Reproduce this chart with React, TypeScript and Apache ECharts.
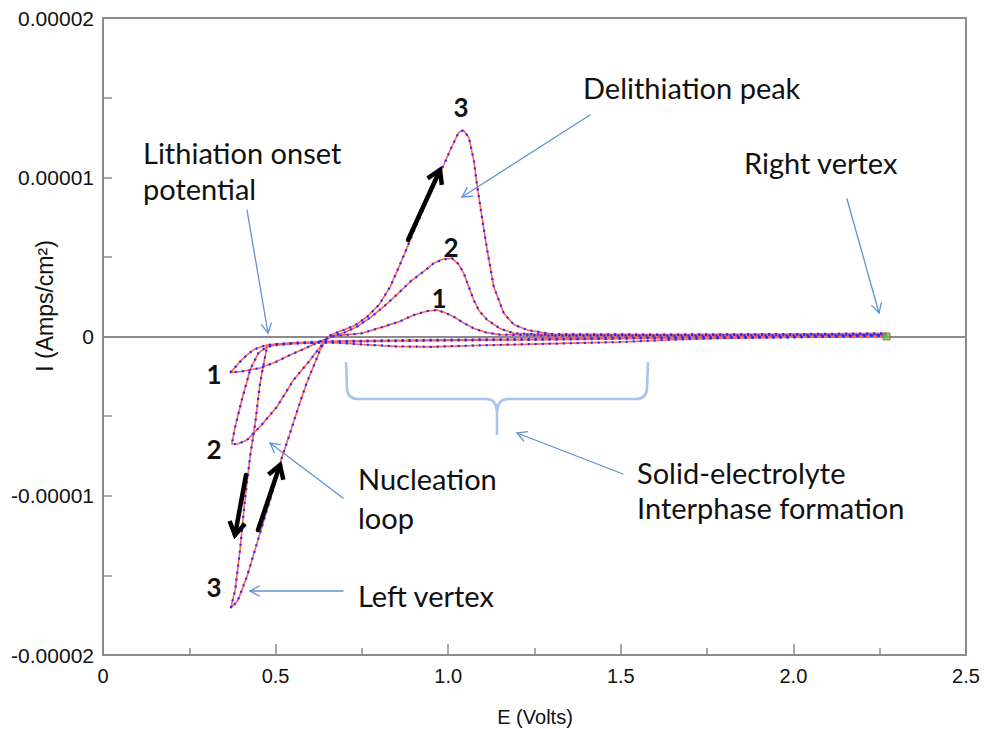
import React, { useEffect, useRef } from "react";
import * as echarts from "echarts";

// ---- Data (E in volts, I in µA/cm²) ----
const cycle1E = [2.27, 2.0, 1.8, 1.65, 1.5, 1.3, 1.1, 0.95, 0.85, 0.75, 0.7, 0.65, 0.6, 0.55, 0.5, 0.475, 0.45, 0.435, 0.415, 0.397, 0.38, 0.368,
  0.4, 0.455, 0.5, 0.542, 0.6, 0.638, 0.66, 0.7, 0.75, 0.813, 0.86, 0.9, 0.94, 0.967, 0.99, 1.016, 1.045, 1.074, 1.11, 1.15, 1.3, 1.6, 2.0, 2.27];
const cycle1I = [0.1, -0.05, -0.1, -0.2, -0.35, -0.45, -0.55, -0.65, -0.62, -0.5, -0.42, -0.38, -0.4, -0.42, -0.48, -0.53, -0.7, -0.85, -1.2, -1.58, -2.0, -2.27,
  -2.2, -1.98, -1.6, -1.16, -0.6, -0.22, 0.0, 0.1, 0.2, 0.62, 0.95, 1.35, 1.6, 1.66, 1.5, 1.24, 0.85, 0.51, 0.25, 0.12, 0.05, 0.05, 0.08, 0.1];

const cycle2E = [2.27, 2.0, 1.6, 1.3, 1.0, 0.8, 0.65, 0.55, 0.5, 0.475, 0.45, 0.426, 0.402, 0.383, 0.373,
  0.39, 0.417, 0.455, 0.504, 0.552, 0.6, 0.638, 0.66, 0.7, 0.736, 0.775, 0.813, 0.85, 0.89, 0.93, 0.958, 0.985, 1.011, 1.03, 1.045, 1.06, 1.074, 1.09, 1.113, 1.15, 1.19, 1.3, 1.6, 2.0, 2.27];
const cycle2I = [0.05, -0.05, -0.1, -0.2, -0.25, -0.3, -0.35, -0.45, -0.55, -0.64, -1.04, -2.1, -3.99, -5.66, -6.75,
  -6.75, -6.5, -5.66, -4.41, -2.73, -1.48, -0.41, 0.0, 0.25, 0.62, 1.2, 1.87, 2.6, 3.44, 4.1, 4.6, 4.85, 4.91, 4.55, 3.97, 3.1, 2.29, 1.6, 1.04, 0.5, 0.2, 0.1, 0.1, 0.12, 0.15];

const cycle3E = [2.27, 2.0, 1.6, 1.3, 1.0, 0.8, 0.65, 0.55, 0.5, 0.475, 0.455, 0.441, 0.426, 0.41, 0.397, 0.383, 0.37,
  0.39, 0.417, 0.455, 0.485, 0.513, 0.542, 0.565, 0.59, 0.629, 0.645, 0.66, 0.697, 0.73, 0.765, 0.8, 0.832, 0.86, 0.89, 0.92, 0.95, 0.987, 1.01, 1.03, 1.043, 1.06, 1.074, 1.083, 1.093, 1.113, 1.132, 1.161, 1.19, 1.229, 1.3, 1.6, 2.0, 2.27];
const cycle3I = [0.05, -0.02, -0.08, -0.15, -0.2, -0.25, -0.3, -0.4, -0.5, -0.64, -2.92, -5.43, -7.55, -10.5, -13.4, -15.9, -17.06,
  -16.6, -15.08, -12.34, -10.2, -7.94, -6.06, -4.5, -2.92, -0.85, -0.2, 0.1, 0.41, 0.7, 1.24, 2.0, 3.13, 4.5, 6.06, 7.6, 9.1, 10.77, 11.9, 12.8, 12.96, 12.5, 11.08, 9.6, 8.15, 5.43, 3.13, 1.46, 0.75, 0.41, 0.15, 0.12, 0.15, 0.2];

const rightVertex = [2.27, 0];

const xTicks = ["0", "0.5", "1.0", "1.5", "2.0", "2.5"];
const yTicks = ["-0.00002", "-0.00001", "0", "0.00001", "0.00002"];

const cycles = [
  { E: cycle1E, I: cycle1I },
  { E: cycle2E, I: cycle2I },
  { E: cycle3E, I: cycle3I },
];

const RED = "#ff5f5f";
const BLUE = "#2626ff";
const ARROW = "#5f93d3";
const AXIS = "#8c8c8c";
const ANN_FONT = "Lato, 'Open Sans', sans-serif";
const TICK_FONT = "'Liberation Sans', Arial, sans-serif";

function arrow(x1: number, y1: number, x2: number, y2: number, color: string, lw: number, head: number, spread: number) {
  const ang = Math.atan2(y2 - y1, x2 - x1);
  const a1 = ang + Math.PI - spread;
  const a2 = ang + Math.PI + spread;
  return [
    { type: "line", shape: { x1, y1, x2, y2 }, style: { stroke: color, lineWidth: lw, lineCap: "round" }, z: 100 },
    {
      type: "polyline",
      shape: { points: [[x2 + head * Math.cos(a1), y2 + head * Math.sin(a1)], [x2, y2], [x2 + head * Math.cos(a2), y2 + head * Math.sin(a2)]] },
      style: { stroke: color, lineWidth: lw, fill: null, lineJoin: "miter" },
      z: 100,
    },
  ];
}

function label(text: string, x: number, baseline: number, size: number, bold = false, align = "left") {
  return {
    type: "text",
    x,
    y: baseline - size * 0.34,
    z: 100,
    style: {
      text,
      fontSize: size,
      fontFamily: ANN_FONT,
      fontWeight: bold ? "bold" : "normal",
      fill: "#111",
      align,
      textAlign: align,
      verticalAlign: "middle",
      textVerticalAlign: "middle",
    },
  };
}

function num(text: string, cx: number, cy: number) {
  return {
    type: "text",
    x: cx,
    y: cy,
    z: 100,
    style: {
      text,
      fontSize: 26,
      fontFamily: ANN_FONT,
      fontWeight: "bold",
      fill: "#111",
      align: "center",
      textAlign: "center",
      verticalAlign: "middle",
      textVerticalAlign: "middle",
    },
  };
}

const BRACE_D = "M346 362 L347 389 Q348 399 358 399 L486 399 Q496 399 497 411 L497 435 M497 411 Q498 399 508 399 L636 399 Q646 399 647 389 L648 362";

export default function App() {
  const ref = useRef<HTMLDivElement>(null);
  useEffect(() => {
    if (!ref.current) return;
    echarts.graphic.registerShape("brace", echarts.graphic.extendPath(BRACE_D, {}) as any);
    const chart = echarts.init(ref.current, null, { renderer: "svg" });

    const series: any[] = [];
    cycles.forEach((c, idx) => {
      const data = c.E.map((e, i) => [e, c.I[i] * 1e-6]);
      series.push({
        type: "line",
        data,
        showSymbol: false,
        symbol: "none",
        lineStyle: { color: RED, width: 1.6 },
        z: 3,
        ...(idx === 0
          ? {
              markLine: {
                silent: true,
                symbol: "none",
                label: { show: false },
                lineStyle: { color: AXIS, width: 2, type: "solid" },
                data: [{ yAxis: 0 }],
                z: 1,
              },
            }
          : {}),
      });
      series.push({
        type: "line",
        data,
        showSymbol: false,
        symbol: "none",
        lineStyle: { color: BLUE, width: 2.2, type: [2, 5] },
        z: 4,
      });
    });
    series.push({
      type: "scatter",
      data: [rightVertex],
      symbol: "rect",
      symbolSize: 7,
      itemStyle: { color: "#3ddc3d", borderColor: "#e33", borderWidth: 1 },
      z: 5,
    });

    const graphics: any[] = [
      // Axis titles
      {
        type: "text",
        x: 535,
        y: 717,
        style: { text: "E (Volts)", fontSize: 20, fontFamily: TICK_FONT, fill: "#111", align: "center", textAlign: "center", verticalAlign: "middle", textVerticalAlign: "middle" },
      },
      {
        type: "text",
        x: 45,
        y: 306,
        rotation: Math.PI / 2,
        style: { text: "I (Amps/cm²)", fontSize: 23, fontFamily: TICK_FONT, fill: "#111", align: "center", textAlign: "center", verticalAlign: "middle", textVerticalAlign: "middle" },
      },
      // annotation texts
      label("Lithiation onset", 143, 162, 29),
      label("potential", 143, 198, 29),
      label("Delithiation peak", 583, 97, 29),
      label("Right vertex", 744, 172, 29),
      label("Nucleation", 358, 488, 29),
      label("loop", 358, 527, 29),
      label("Left vertex", 358, 605, 29),
      label("Solid-electrolyte", 637, 482, 29),
      label("Interphase formation", 637, 517, 29),
      // cycle numbers
      num("3", 461, 107),
      num("2", 451, 247),
      num("1", 439, 298),
      num("1", 214, 374),
      num("2", 214, 449),
      num("3", 214, 587),
      // blue arrows
      ...arrow(247, 210, 268, 333, ARROW, 1.3, 11, 0.5),
      ...arrow(590, 115, 462, 197, ARROW, 1.3, 11, 0.5),
      ...arrow(847, 199, 879, 313, ARROW, 1.3, 11, 0.5),
      ...arrow(343, 498, 270, 443, ARROW, 1.3, 11, 0.5),
      ...arrow(343, 591, 250, 591, ARROW, 1.3, 11, 0.5),
      ...arrow(623, 474, 517, 433, ARROW, 1.3, 11, 0.5),
      // black arrows
      ...arrow(408, 240, 440, 170, "#000", 4.5, 15, 0.55),
      ...arrow(246, 475, 235, 535, "#000", 4.5, 15, 0.55),
      ...arrow(258, 530, 280, 465, "#000", 4.5, 15, 0.55),
      // brace
      {
        type: "brace",
        x: 0,
        y: 0,
        z: 100,
        style: { stroke: "#a7c5ea", lineWidth: 2.6, fill: "none" },
      },
    ];

    chart.setOption({
      animation: false,
      backgroundColor: "#fff",
      grid: { left: 103, top: 18, right: 18, bottom: 74, show: true, borderColor: AXIS, borderWidth: 2 },
      xAxis: {
        type: "value",
        min: 0,
        max: 2.5,
        interval: 0.5,
        axisLine: { show: true, onZero: false, lineStyle: { color: AXIS, width: 2 } },
        axisTick: { show: true, inside: true, length: 11, lineStyle: { color: AXIS, width: 1.5 } },
        minorTick: { show: true, splitNumber: 2, length: 7, lineStyle: { color: AXIS, width: 1.5 } },
        splitLine: { show: false },
        axisLabel: {
          margin: 11,
          fontSize: 20,
          fontFamily: TICK_FONT,
          color: "#111",
          formatter: (v: number) => xTicks[Math.round(v / 0.5)] ?? "",
        },
      },
      yAxis: {
        type: "value",
        min: -0.00002,
        max: 0.00002,
        interval: 0.00001,
        axisLine: { show: true, onZero: false, lineStyle: { color: AXIS, width: 2 } },
        axisTick: { show: true, inside: true, length: 9, lineStyle: { color: AXIS, width: 1.5 } },
        minorTick: { show: true, splitNumber: 2, length: 9, lineStyle: { color: AXIS, width: 1.5 } },
        splitLine: { show: false },
        axisLabel: {
          margin: 9,
          fontSize: 21,
          fontFamily: TICK_FONT,
          color: "#111",
          formatter: (v: number) => yTicks[Math.round(v / 0.00001) + 2] ?? "",
        },
      },
      series,
      graphic: graphics,
    });
    return () => chart.dispose();
  }, []);
  return <div ref={ref} style={{ position: "absolute", left: 0, top: 0, width: 984, height: 729 }} />;
}
